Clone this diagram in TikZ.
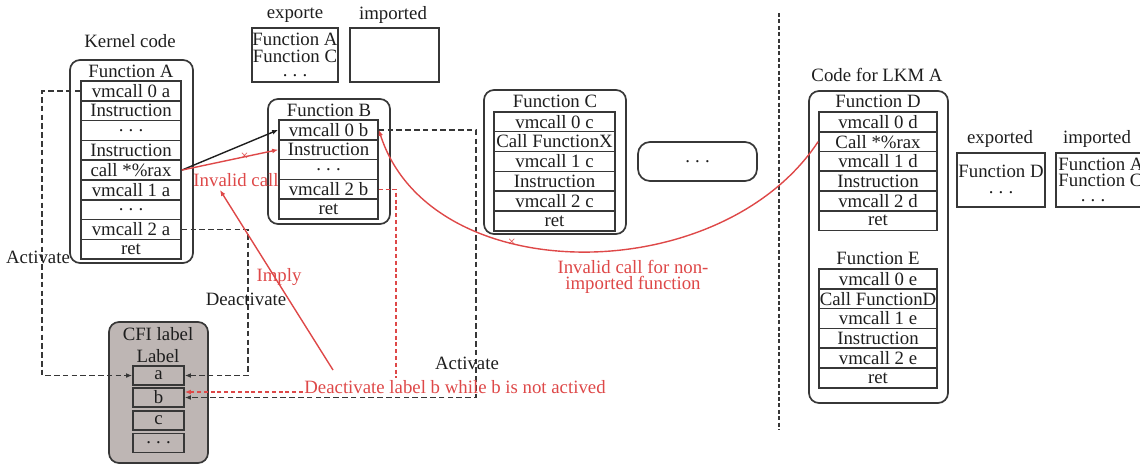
\documentclass[tikz,border=0pt]{standalone}
\usepackage{fontspec}
\setmainfont{Liberation Serif}
\usetikzlibrary{arrows.meta,calc}
\definecolor{ink}{RGB}{30,30,30}
\definecolor{linec}{RGB}{55,55,55}
\definecolor{redc}{RGB}{222,72,72}
\definecolor{cfigray}{RGB}{190,182,180}
\newcommand\mydots{.\hspace{2.6pt}.\hspace{2.6pt}.}
\begin{document}
\begin{tikzpicture}[x=0.5pt,y=-0.5pt,
  every node/.style={font=\fontsize{9.4pt}{10pt}\selectfont, text=ink},
  fbox/.style={draw=linec, line width=0.85pt, rounded corners=5pt},
  cell/.style={draw=linec, line width=0.85pt, minimum height=9.9pt, inner sep=0pt},
  cellA/.style={cell, minimum width=50pt},
  cellB/.style={cell, minimum width=49.5pt},
  cellC/.style={cell, minimum width=60.5pt, minimum height=9.95pt},
  cellD/.style={cell, minimum width=59pt, minimum height=9.9pt},
  cellL/.style={cell, fill=cfigray, minimum width=25.5pt, minimum height=9.5pt},
  lbl/.style={inner sep=0.5pt},
  redlbl/.style={lbl, text=redc},
  xbox/.style={draw=linec, line width=0.85pt, minimum height=27pt, inner sep=0pt},
  dline/.style={draw=linec, line width=0.8pt, dash pattern=on 2.8pt off 1.6pt},
  rdline/.style={draw=redc, line width=0.7pt, dash pattern=on 2pt off 1.4pt},
  sepline/.style={draw=linec, line width=0.8pt, dash pattern=on 2pt off 1.2pt},
  redline/.style={draw=redc, line width=0.7pt},
  tip/.style={-{Latex[length=3pt,width=2.4pt]}},
  xmark/.style={text=redc, inner sep=0pt, font=\fontsize{7pt}{7pt}\selectfont},
]
\useasboundingbox (0,0) rectangle (1140,466);

% ---- Kernel code, Function A
\node[lbl] (kc) at (130,41) {Kernel code};
\draw[fbox] (70,60) rectangle (193,263);
\node[lbl] (fa) at (131,71) {Function A};
\foreach \t [count=\i from 0] in {vmcall 0 a,Instruction,\mydots,Instruction,call *\%rax,vmcall 1 a,\mydots,vmcall 2 a,ret}
  \node[cellA] (A\i) at (131,{90.9+19.8*\i}) {\t};

% ---- exports / imports (kernel)
\node[lbl] (expKl) at (295,15) {exporte};
\node[xbox, minimum width=43pt] (expK) at (295,55) {};
\node[lbl] (expKa) at (295,39) {Function A};
\node[lbl] (expKc) at (295,56) {Function C};
\node[lbl] (expKd) at (295,76) {\mydots};
\node[lbl] (impKl) at (393,15) {imported};
\node[xbox, minimum width=44.5pt] (impK) at (394.5,55) {};

% ---- Function B
\draw[fbox] (268,99) rectangle (390,224);
\node[lbl] (fb) at (329,110) {Function B};
\foreach \t [count=\i from 0] in {vmcall 0 b,Instruction,\mydots,vmcall 2 b,ret}
  \node[cellB] (B\i) at (328.5,{129.9+19.8*\i}) {\t};

% ---- Function C
\draw[fbox] (484,90) rectangle (626,234);
\node[lbl] (fc) at (555,101) {Function C};
\foreach \t [count=\i from 0] in {vmcall 0 c,Call FunctionX,vmcall 1 c,Instruction,vmcall 2 c,ret}
  \node[cellC] (C\i) at (554.5,{121.6+19.9*\i}) {\t};

% ---- more functions
\node[draw=linec, line width=0.85pt, rounded corners=6pt, minimum width=59.5pt, minimum height=19.5pt, inner sep=0pt] (more) at (697.5,161.5) {\mydots};

% ---- separator
\coordinate (sepT) at (779,13);
\coordinate (sepB) at (779,430);
\draw[sepline] (sepT) -- (sepB);

% ---- LKM A
\node[lbl] (lkm) at (877,75) {Code for LKM A};
\draw[fbox] (809,91) rectangle (948,403);
\node[lbl] (fd) at (878,101) {Function D};
\foreach \t [count=\i from 0] in {vmcall 0 d,Call *\%rax,vmcall 1 d,Instruction,vmcall 2 d,ret}
  \node[cellD] (D\i) at (878,{121.9+19.75*\i}) {\t};
\node[lbl] (fe) at (878,258) {Function E};
\foreach \t [count=\i from 0] in {vmcall 0 e,Call FunctionD,vmcall 1 e,Instruction,vmcall 2 e,ret}
  \node[cellD] (E\i) at (878,{278.9+19.8*\i}) {\t};

% ---- exports / imports (LKM)
\node[lbl] (expLl) at (1000,139) {exported};
\node[xbox, minimum width=44pt] (expL) at (1001,180) {};
\node[lbl] (expLd) at (1001,171) {Function D};
\node[lbl] (expLx) at (1001,193) {\mydots};
\node[lbl] (impLl) at (1097,139) {imported};
\node[xbox, minimum width=45pt] (impL) at (1101,180) {};
\node[lbl, anchor=west] (impLa) at (1057,164) {Function A};
\node[lbl, anchor=west] (impLc) at (1057,180) {Function C};
\node[lbl] (impLx) at (1093,201) {\mydots};

% ---- CFI label
\draw[fbox, fill=cfigray] (109,322) rectangle (208,463);
\node[lbl] (cfi) at (158,334) {CFI label};
\node[lbl] (lab) at (158,356) {Label};
\node[cellL] (La) at (158.5,375.5) {a};
\node[cellL] (Lb) at (158.5,397.5) {b};
\node[cellL] (Lc) at (158.5,420.5) {c};
\node[cellL] (Ld) at (158.5,443) {\mydots};

% ---- dashed activation lines
\draw[dline, tip] (A0.west) -- ++(-38,0) |- (La.west);
\draw[dline, tip] (A7.east) -- ++(66,0) |- (La.east);
\draw[dline, tip] (B0.east) -- ++(97,0) |- (Lb.east);
\draw[rdline] (B3.east) -- ++(17,0) -- ++(0,189);
\coordinate (dlS) at (303,392);
\draw[rdline, tip] (dlS) -- ($(Lb.east)+(0,-5.5)$);

% ---- calls
\draw[draw=ink, line width=0.7pt, tip] (A4.east) -- (B0.west);
\draw[redline, tip] (A4.east) -- node[xmark, pos=0.65] {×} (B1.west);
\draw[redline, tip] (D1.west) .. controls (720,290) and (430,290) .. node[xmark, pos=0.63] {×} (B0.east);
\coordinate (impS) at (333,370);
\coordinate (impE) at (220,190);
\draw[redline, tip] (impS) -- (impE);

% ---- labels
\node[lbl] (actL) at (38,257) {Activate};
\node[lbl] (deact) at (246,299) {Deactivate};
\node[lbl] (actR) at (467,363) {Activate};
\node[redlbl] (inv) at (236,180) {Invalid call};
\node[redlbl] (imply) at (279,277) {Imply};
\node[redlbl, align=center, font=\fontsize{9.4pt}{8pt}\selectfont] (nonimp) at (633,277) {Invalid call for non-\\imported function};
\node[redlbl] (dlt) at (455,387) {Deactivate label b while b is not actived};
\end{tikzpicture}
\end{document}
